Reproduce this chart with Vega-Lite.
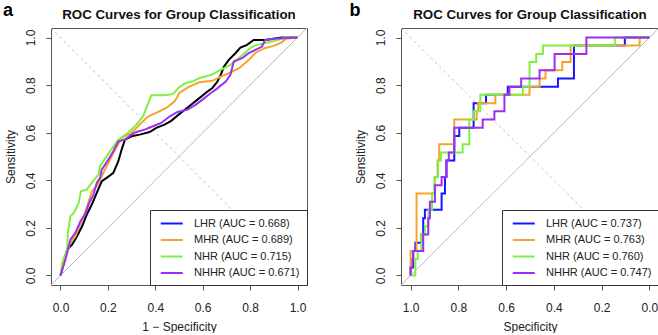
{
  "$schema": "https://vega.github.io/schema/vega-lite/v6.json",
  "background": "white",
  "padding": {"left": 2, "right": 2, "top": 1, "bottom": 0},
  "config": {
    "font": "Liberation Sans",
    "view": {"stroke": "#555", "strokeWidth": 1},
    "axis": {"grid": false, "domain": false, "tickColor": "#555", "tickSize": 5, "tickWidth": 1, "labelFontSize": 12, "labelColor": "#222", "titleFontSize": 12, "titleFontWeight": "normal", "titleColor": "#222", "labelFlush": false},
    "title": {"fontSize": 13.3, "fontWeight": "bold", "color": "#111", "anchor": "middle", "frame": "group", "offset": -19, "baseline": "alphabetic"},
    "legend": {
      "title": null,
      "orient": "bottom-right",
      "offset": 0,
      "padding": 7,
      "strokeColor": "#333",
      "fillColor": "white",
      "symbolType": "M-0.5,0H3.5",
      "symbolSize": 121,
      "symbolStrokeWidth": 2,
      "labelFontSize": 11,
      "labelColor": "#222",
      "labelOffset": 24,
      "rowPadding": 4.5
    },
    "concat": {"spacing": 40}
  },
  "datasets": {
    "rocA": [
      {"model":"LHR","fpr":0,"tpr":0},{"model":"LHR","fpr":0.014,"tpr":0.053},{"model":"LHR","fpr":0.028,"tpr":0.109},{"model":"LHR","fpr":0.049,"tpr":0.13},{"model":"LHR","fpr":0.07,"tpr":0.165},{"model":"LHR","fpr":0.091,"tpr":0.207},{"model":"LHR","fpr":0.111,"tpr":0.256},{"model":"LHR","fpr":0.132,"tpr":0.298},{"model":"LHR","fpr":0.153,"tpr":0.347},{"model":"LHR","fpr":0.174,"tpr":0.396},{"model":"LHR","fpr":0.195,"tpr":0.41},{"model":"LHR","fpr":0.223,"tpr":0.431},{"model":"LHR","fpr":0.244,"tpr":0.48},{"model":"LHR","fpr":0.258,"tpr":0.529},{"model":"LHR","fpr":0.272,"tpr":0.571},{"model":"LHR","fpr":0.3,"tpr":0.585},{"model":"LHR","fpr":0.334,"tpr":0.592},{"model":"LHR","fpr":0.376,"tpr":0.603},{"model":"LHR","fpr":0.404,"tpr":0.62},{"model":"LHR","fpr":0.439,"tpr":0.634},{"model":"LHR","fpr":0.467,"tpr":0.65},{"model":"LHR","fpr":0.501,"tpr":0.678},{"model":"LHR","fpr":0.543,"tpr":0.711},{"model":"LHR","fpr":0.578,"tpr":0.739},{"model":"LHR","fpr":0.62,"tpr":0.773},{"model":"LHR","fpr":0.641,"tpr":0.788},{"model":"LHR","fpr":0.662,"tpr":0.815},{"model":"LHR","fpr":0.676,"tpr":0.843},{"model":"LHR","fpr":0.69,"tpr":0.878},{"model":"LHR","fpr":0.71,"tpr":0.906},{"model":"LHR","fpr":0.738,"tpr":0.934},{"model":"LHR","fpr":0.759,"tpr":0.958},{"model":"LHR","fpr":0.787,"tpr":0.969},{"model":"LHR","fpr":0.815,"tpr":0.99},{"model":"LHR","fpr":0.864,"tpr":0.99},{"model":"LHR","fpr":0.933,"tpr":1},{"model":"LHR","fpr":1,"tpr":1},
      {"model":"MHR","fpr":0,"tpr":0},{"model":"MHR","fpr":0.014,"tpr":0.067},{"model":"MHR","fpr":0.042,"tpr":0.137},{"model":"MHR","fpr":0.063,"tpr":0.165},{"model":"MHR","fpr":0.091,"tpr":0.235},{"model":"MHR","fpr":0.111,"tpr":0.284},{"model":"MHR","fpr":0.132,"tpr":0.354},{"model":"MHR","fpr":0.153,"tpr":0.375},{"model":"MHR","fpr":0.174,"tpr":0.417},{"model":"MHR","fpr":0.202,"tpr":0.473},{"model":"MHR","fpr":0.223,"tpr":0.515},{"model":"MHR","fpr":0.258,"tpr":0.578},{"model":"MHR","fpr":0.3,"tpr":0.599},{"model":"MHR","fpr":0.334,"tpr":0.634},{"model":"MHR","fpr":0.369,"tpr":0.668},{"model":"MHR","fpr":0.404,"tpr":0.683},{"model":"MHR","fpr":0.446,"tpr":0.704},{"model":"MHR","fpr":0.481,"tpr":0.731},{"model":"MHR","fpr":0.494,"tpr":0.752},{"model":"MHR","fpr":0.501,"tpr":0.767},{"model":"MHR","fpr":0.543,"tpr":0.794},{"model":"MHR","fpr":0.585,"tpr":0.812},{"model":"MHR","fpr":0.641,"tpr":0.818},{"model":"MHR","fpr":0.676,"tpr":0.836},{"model":"MHR","fpr":0.71,"tpr":0.85},{"model":"MHR","fpr":0.752,"tpr":0.87},{"model":"MHR","fpr":0.794,"tpr":0.905},{"model":"MHR","fpr":0.822,"tpr":0.935},{"model":"MHR","fpr":0.86,"tpr":0.955},{"model":"MHR","fpr":0.9,"tpr":0.965},{"model":"MHR","fpr":0.935,"tpr":0.98},{"model":"MHR","fpr":0.95,"tpr":0.995},{"model":"MHR","fpr":1,"tpr":1},
      {"model":"NHR","fpr":0,"tpr":0},{"model":"NHR","fpr":0.007,"tpr":0.053},{"model":"NHR","fpr":0.028,"tpr":0.109},{"model":"NHR","fpr":0.031,"tpr":0.179},{"model":"NHR","fpr":0.042,"tpr":0.249},{"model":"NHR","fpr":0.056,"tpr":0.263},{"model":"NHR","fpr":0.077,"tpr":0.305},{"model":"NHR","fpr":0.086,"tpr":0.354},{"model":"NHR","fpr":0.111,"tpr":0.361},{"model":"NHR","fpr":0.132,"tpr":0.389},{"model":"NHR","fpr":0.16,"tpr":0.424},{"model":"NHR","fpr":0.167,"tpr":0.459},{"model":"NHR","fpr":0.209,"tpr":0.522},{"model":"NHR","fpr":0.244,"tpr":0.571},{"model":"NHR","fpr":0.285,"tpr":0.599},{"model":"NHR","fpr":0.32,"tpr":0.634},{"model":"NHR","fpr":0.348,"tpr":0.668},{"model":"NHR","fpr":0.376,"tpr":0.739},{"model":"NHR","fpr":0.383,"tpr":0.757},{"model":"NHR","fpr":0.439,"tpr":0.757},{"model":"NHR","fpr":0.474,"tpr":0.762},{"model":"NHR","fpr":0.499,"tpr":0.79},{"model":"NHR","fpr":0.529,"tpr":0.809},{"model":"NHR","fpr":0.557,"tpr":0.815},{"model":"NHR","fpr":0.585,"tpr":0.829},{"model":"NHR","fpr":0.641,"tpr":0.845},{"model":"NHR","fpr":0.676,"tpr":0.864},{"model":"NHR","fpr":0.717,"tpr":0.885},{"model":"NHR","fpr":0.752,"tpr":0.913},{"model":"NHR","fpr":0.801,"tpr":0.956},{"model":"NHR","fpr":0.822,"tpr":0.967},{"model":"NHR","fpr":0.864,"tpr":0.977},{"model":"NHR","fpr":0.919,"tpr":0.99},{"model":"NHR","fpr":0.947,"tpr":1},{"model":"NHR","fpr":1,"tpr":1},
      {"model":"NHHR","fpr":0,"tpr":0},{"model":"NHHR","fpr":0.021,"tpr":0.067},{"model":"NHHR","fpr":0.042,"tpr":0.151},{"model":"NHHR","fpr":0.063,"tpr":0.179},{"model":"NHHR","fpr":0.084,"tpr":0.228},{"model":"NHHR","fpr":0.104,"tpr":0.256},{"model":"NHHR","fpr":0.118,"tpr":0.298},{"model":"NHHR","fpr":0.139,"tpr":0.34},{"model":"NHHR","fpr":0.153,"tpr":0.389},{"model":"NHHR","fpr":0.167,"tpr":0.41},{"model":"NHHR","fpr":0.174,"tpr":0.445},{"model":"NHHR","fpr":0.202,"tpr":0.487},{"model":"NHHR","fpr":0.223,"tpr":0.522},{"model":"NHHR","fpr":0.244,"tpr":0.564},{"model":"NHHR","fpr":0.272,"tpr":0.571},{"model":"NHHR","fpr":0.3,"tpr":0.592},{"model":"NHHR","fpr":0.32,"tpr":0.603},{"model":"NHHR","fpr":0.355,"tpr":0.613},{"model":"NHHR","fpr":0.39,"tpr":0.627},{"model":"NHHR","fpr":0.425,"tpr":0.641},{"model":"NHHR","fpr":0.46,"tpr":0.668},{"model":"NHHR","fpr":0.494,"tpr":0.687},{"model":"NHHR","fpr":0.536,"tpr":0.697},{"model":"NHHR","fpr":0.571,"tpr":0.718},{"model":"NHHR","fpr":0.599,"tpr":0.739},{"model":"NHHR","fpr":0.634,"tpr":0.767},{"model":"NHHR","fpr":0.655,"tpr":0.781},{"model":"NHHR","fpr":0.697,"tpr":0.815},{"model":"NHHR","fpr":0.717,"tpr":0.843},{"model":"NHHR","fpr":0.731,"tpr":0.899},{"model":"NHHR","fpr":0.766,"tpr":0.913},{"model":"NHHR","fpr":0.794,"tpr":0.934},{"model":"NHHR","fpr":0.85,"tpr":0.962},{"model":"NHHR","fpr":0.864,"tpr":0.99},{"model":"NHHR","fpr":0.9,"tpr":0.995},{"model":"NHHR","fpr":1,"tpr":1}
    ],
    "rocB": [
      {"model":"LHR","spec":1,"sens":0},{"model":"LHR","spec":1,"sens":0.034},{"model":"LHR","spec":0.989,"sens":0.034},{"model":"LHR","spec":0.989,"sens":0.103},{"model":"LHR","spec":0.98,"sens":0.103},{"model":"LHR","spec":0.98,"sens":0.138},{"model":"LHR","spec":0.954,"sens":0.138},{"model":"LHR","spec":0.954,"sens":0.172},{"model":"LHR","spec":0.947,"sens":0.172},{"model":"LHR","spec":0.947,"sens":0.241},{"model":"LHR","spec":0.94,"sens":0.241},{"model":"LHR","spec":0.94,"sens":0.276},{"model":"LHR","spec":0.87,"sens":0.276},{"model":"LHR","spec":0.87,"sens":0.345},{"model":"LHR","spec":0.856,"sens":0.345},{"model":"LHR","spec":0.856,"sens":0.414},{"model":"LHR","spec":0.85,"sens":0.414},{"model":"LHR","spec":0.85,"sens":0.483},{"model":"LHR","spec":0.817,"sens":0.483},{"model":"LHR","spec":0.817,"sens":0.586},{"model":"LHR","spec":0.796,"sens":0.586},{"model":"LHR","spec":0.796,"sens":0.621},{"model":"LHR","spec":0.736,"sens":0.621},{"model":"LHR","spec":0.736,"sens":0.724},{"model":"LHR","spec":0.684,"sens":0.724},{"model":"LHR","spec":0.684,"sens":0.759},{"model":"LHR","spec":0.593,"sens":0.759},{"model":"LHR","spec":0.593,"sens":0.793},{"model":"LHR","spec":0.383,"sens":0.793},{"model":"LHR","spec":0.383,"sens":0.828},{"model":"LHR","spec":0.316,"sens":0.828},{"model":"LHR","spec":0.316,"sens":0.966},{"model":"LHR","spec":0.103,"sens":0.966},{"model":"LHR","spec":0.103,"sens":1},{"model":"LHR","spec":0,"sens":1},
      {"model":"MHR","spec":1,"sens":0},{"model":"MHR","spec":1,"sens":0.103},{"model":"MHR","spec":0.975,"sens":0.103},{"model":"MHR","spec":0.975,"sens":0.345},{"model":"MHR","spec":0.898,"sens":0.345},{"model":"MHR","spec":0.898,"sens":0.414},{"model":"MHR","spec":0.887,"sens":0.414},{"model":"MHR","spec":0.887,"sens":0.483},{"model":"MHR","spec":0.88,"sens":0.483},{"model":"MHR","spec":0.88,"sens":0.552},{"model":"MHR","spec":0.817,"sens":0.552},{"model":"MHR","spec":0.817,"sens":0.655},{"model":"MHR","spec":0.723,"sens":0.655},{"model":"MHR","spec":0.723,"sens":0.69},{"model":"MHR","spec":0.717,"sens":0.69},{"model":"MHR","spec":0.717,"sens":0.724},{"model":"MHR","spec":0.645,"sens":0.724},{"model":"MHR","spec":0.645,"sens":0.759},{"model":"MHR","spec":0.502,"sens":0.759},{"model":"MHR","spec":0.502,"sens":0.793},{"model":"MHR","spec":0.46,"sens":0.793},{"model":"MHR","spec":0.46,"sens":0.828},{"model":"MHR","spec":0.435,"sens":0.828},{"model":"MHR","spec":0.435,"sens":0.862},{"model":"MHR","spec":0.365,"sens":0.862},{"model":"MHR","spec":0.365,"sens":0.897},{"model":"MHR","spec":0.33,"sens":0.897},{"model":"MHR","spec":0.33,"sens":0.966},{"model":"MHR","spec":0.041,"sens":0.966},{"model":"MHR","spec":0.041,"sens":1},{"model":"MHR","spec":0,"sens":1},
      {"model":"NHR","spec":1,"sens":0},{"model":"NHR","spec":0.98,"sens":0},{"model":"NHR","spec":0.98,"sens":0.069},{"model":"NHR","spec":0.97,"sens":0.069},{"model":"NHR","spec":0.97,"sens":0.103},{"model":"NHR","spec":0.955,"sens":0.103},{"model":"NHR","spec":0.955,"sens":0.172},{"model":"NHR","spec":0.94,"sens":0.172},{"model":"NHR","spec":0.94,"sens":0.207},{"model":"NHR","spec":0.925,"sens":0.207},{"model":"NHR","spec":0.925,"sens":0.276},{"model":"NHR","spec":0.91,"sens":0.276},{"model":"NHR","spec":0.91,"sens":0.345},{"model":"NHR","spec":0.9,"sens":0.345},{"model":"NHR","spec":0.9,"sens":0.414},{"model":"NHR","spec":0.885,"sens":0.414},{"model":"NHR","spec":0.885,"sens":0.483},{"model":"NHR","spec":0.873,"sens":0.483},{"model":"NHR","spec":0.873,"sens":0.517},{"model":"NHR","spec":0.782,"sens":0.517},{"model":"NHR","spec":0.782,"sens":0.552},{"model":"NHR","spec":0.754,"sens":0.552},{"model":"NHR","spec":0.754,"sens":0.655},{"model":"NHR","spec":0.736,"sens":0.655},{"model":"NHR","spec":0.736,"sens":0.69},{"model":"NHR","spec":0.708,"sens":0.69},{"model":"NHR","spec":0.708,"sens":0.759},{"model":"NHR","spec":0.53,"sens":0.759},{"model":"NHR","spec":0.53,"sens":0.793},{"model":"NHR","spec":0.502,"sens":0.793},{"model":"NHR","spec":0.502,"sens":0.897},{"model":"NHR","spec":0.474,"sens":0.897},{"model":"NHR","spec":0.474,"sens":0.931},{"model":"NHR","spec":0.446,"sens":0.931},{"model":"NHR","spec":0.446,"sens":0.966},{"model":"NHR","spec":0.145,"sens":0.966},{"model":"NHR","spec":0.145,"sens":1},{"model":"NHR","spec":0,"sens":1},
      {"model":"NHHR","spec":1,"sens":0},{"model":"NHHR","spec":1,"sens":0.034},{"model":"NHHR","spec":0.992,"sens":0.034},{"model":"NHHR","spec":0.992,"sens":0.069},{"model":"NHHR","spec":0.989,"sens":0.069},{"model":"NHHR","spec":0.989,"sens":0.103},{"model":"NHHR","spec":0.947,"sens":0.103},{"model":"NHHR","spec":0.947,"sens":0.172},{"model":"NHHR","spec":0.926,"sens":0.172},{"model":"NHHR","spec":0.926,"sens":0.241},{"model":"NHHR","spec":0.919,"sens":0.241},{"model":"NHHR","spec":0.919,"sens":0.31},{"model":"NHHR","spec":0.898,"sens":0.31},{"model":"NHHR","spec":0.898,"sens":0.379},{"model":"NHHR","spec":0.87,"sens":0.379},{"model":"NHHR","spec":0.87,"sens":0.414},{"model":"NHHR","spec":0.849,"sens":0.414},{"model":"NHHR","spec":0.849,"sens":0.483},{"model":"NHHR","spec":0.84,"sens":0.483},{"model":"NHHR","spec":0.84,"sens":0.517},{"model":"NHHR","spec":0.817,"sens":0.517},{"model":"NHHR","spec":0.817,"sens":0.621},{"model":"NHHR","spec":0.698,"sens":0.621},{"model":"NHHR","spec":0.698,"sens":0.655},{"model":"NHHR","spec":0.649,"sens":0.655},{"model":"NHHR","spec":0.649,"sens":0.69},{"model":"NHHR","spec":0.607,"sens":0.69},{"model":"NHHR","spec":0.607,"sens":0.759},{"model":"NHHR","spec":0.586,"sens":0.759},{"model":"NHHR","spec":0.586,"sens":0.793},{"model":"NHHR","spec":0.537,"sens":0.793},{"model":"NHHR","spec":0.537,"sens":0.828},{"model":"NHHR","spec":0.46,"sens":0.828},{"model":"NHHR","spec":0.46,"sens":0.862},{"model":"NHHR","spec":0.397,"sens":0.862},{"model":"NHHR","spec":0.397,"sens":0.931},{"model":"NHHR","spec":0.264,"sens":0.931},{"model":"NHHR","spec":0.264,"sens":1},{"model":"NHHR","spec":0,"sens":1}
    ]
  },
  "resolve": {"scale": {"color": "independent", "x": "independent", "y": "independent"}, "legend": {"color": "independent"}},
  "hconcat": [
    {
      "width": 256,
      "height": 257,
      "title": "ROC Curves for Group Classification",
      "layer": [
        {
          "data": {"values": [{}]},
          "mark": {"type": "rule", "color": "#c4c4c4", "strokeDash": [3, 3], "strokeWidth": 1},
          "encoding": {
            "x": {"datum": -0.04, "type": "quantitative", "scale": {"domain": [-0.04, 1.04], "nice": false, "zero": false}},
            "y": {"datum": 1.04, "type": "quantitative", "scale": {"domain": [-0.04, 1.04], "nice": false, "zero": false}},
            "x2": {"datum": 1.04},
            "y2": {"datum": -0.04}
          }
        },
        {
          "data": {"values": [{}]},
          "mark": {"type": "rule", "color": "#b8b8b8", "strokeWidth": 1},
          "encoding": {
            "x": {"datum": -0.04, "type": "quantitative", "scale": {"domain": [-0.04, 1.04], "nice": false, "zero": false}},
            "y": {"datum": -0.04, "type": "quantitative", "scale": {"domain": [-0.04, 1.04], "nice": false, "zero": false}},
            "x2": {"datum": 1.04},
            "y2": {"datum": 1.04}
          }
        },
        {
          "data": {"name": "rocA"},
          "encoding": {
            "x": {"field": "fpr", "type": "quantitative", "scale": {"domain": [-0.04, 1.04], "nice": false, "zero": false}, "axis": {"title": "1 − Specificity", "values": [0, 0.2, 0.4, 0.6, 0.8, 1], "format": ".1f", "labelPadding": 12, "titlePadding": 8}},
            "y": {"field": "tpr", "type": "quantitative", "scale": {"domain": [-0.04, 1.04], "nice": false, "zero": false}, "axis": {"title": "Sensitivity", "values": [0, 0.2, 0.4, 0.6, 0.8, 1], "format": ".1f", "labelAngle": 270, "labelAlign": "center", "labelBaseline": "alphabetic", "labelPadding": 11.5, "titlePadding": 7}},
            "order": {"value": null}
          },
          "layer": [
            {
              "transform": [{"filter": "datum.model === 'LHR'"}],
              "mark": {"type": "line", "color": "black", "strokeWidth": 2}
            },
            {
              "transform": [{"filter": "datum.model !== 'LHR'"}],
              "mark": {"type": "line", "strokeWidth": 2},
              "encoding": {
                "color": {
                  "field": "model",
                  "type": "nominal",
                  "scale": {"domain": ["LHR", "MHR", "NHR", "NHHR"], "range": ["#1515ff", "#f3a42c", "#80f040", "#9d2ff2"]},
                  "legend": {
                    "labelExpr": "datum.label === 'LHR' ? 'LHR (AUC = 0.668)' : datum.label === 'MHR' ? 'MHR (AUC = 0.689)' : datum.label === 'NHR' ? 'NHR (AUC = 0.715)' : 'NHHR (AUC = 0.671)'"
                  }
                }
              }
            }
          ]
        },
        {
          "data": {"values": [{}]},
          "mark": {"type": "text", "text": "a", "fontSize": 18, "fontWeight": "bold", "align": "left", "baseline": "alphabetic", "color": "black"},
          "encoding": {
            "x": {"datum": -0.242, "type": "quantitative"},
            "y": {"datum": 1.091, "type": "quantitative"}
          }
        }
      ]
    },
    {
      "width": 258,
      "height": 257,
      "title": "ROC Curves for Group Classification",
      "layer": [
        {
          "data": {"values": [{}]},
          "mark": {"type": "rule", "color": "#c4c4c4", "strokeDash": [3, 3], "strokeWidth": 1},
          "encoding": {
            "x": {"datum": 1.04, "type": "quantitative", "scale": {"domain": [-0.04, 1.04], "nice": false, "zero": false, "reverse": true}},
            "y": {"datum": 1.04, "type": "quantitative", "scale": {"domain": [-0.04, 1.04], "nice": false, "zero": false}},
            "x2": {"datum": -0.04},
            "y2": {"datum": -0.04}
          }
        },
        {
          "data": {"values": [{}]},
          "mark": {"type": "rule", "color": "#b8b8b8", "strokeWidth": 1},
          "encoding": {
            "x": {"datum": 1.04, "type": "quantitative", "scale": {"domain": [-0.04, 1.04], "nice": false, "zero": false, "reverse": true}},
            "y": {"datum": -0.04, "type": "quantitative", "scale": {"domain": [-0.04, 1.04], "nice": false, "zero": false}},
            "x2": {"datum": -0.04},
            "y2": {"datum": 1.04}
          }
        },
        {
          "data": {"name": "rocB"},
          "mark": {"type": "line", "strokeWidth": 2},
          "encoding": {
            "x": {"field": "spec", "type": "quantitative", "scale": {"domain": [-0.04, 1.04], "nice": false, "zero": false, "reverse": true}, "axis": {"title": "Specificity", "values": [0, 0.2, 0.4, 0.6, 0.8, 1], "format": ".1f", "labelPadding": 12, "titlePadding": 8}},
            "y": {"field": "sens", "type": "quantitative", "scale": {"domain": [-0.04, 1.04], "nice": false, "zero": false}, "axis": {"title": "Sensitivity", "values": [0, 0.2, 0.4, 0.6, 0.8, 1], "format": ".1f", "labelAngle": 270, "labelAlign": "center", "labelBaseline": "alphabetic", "labelPadding": 11.5, "titlePadding": 7}},
            "order": {"value": null},
            "color": {
              "field": "model",
              "type": "nominal",
              "scale": {"domain": ["LHR", "MHR", "NHR", "NHHR"], "range": ["#1515ff", "#f3a42c", "#80f040", "#9d2ff2"]},
              "legend": {
                "labelExpr": "datum.label === 'LHR' ? 'LHR (AUC = 0.737)' : datum.label === 'MHR' ? 'MHR (AUC = 0.763)' : datum.label === 'NHR' ? 'NHR (AUC = 0.760)' : 'NHHR (AUC = 0.747)'"
              }
            }
          }
        },
        {
          "data": {"values": [{}]},
          "mark": {"type": "text", "text": "b", "fontSize": 18, "fontWeight": "bold", "align": "left", "baseline": "alphabetic", "color": "black"},
          "encoding": {
            "x": {"datum": 1.256, "type": "quantitative"},
            "y": {"datum": 1.091, "type": "quantitative"}
          }
        }
      ]
    }
  ]
}
